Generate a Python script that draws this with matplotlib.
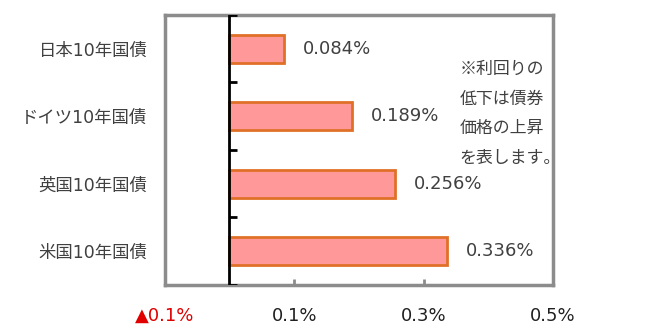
import matplotlib
matplotlib.use('Agg')
import matplotlib.pyplot as plt
import numpy as np

plt.rcParams['font.family'] = ['DejaVu Sans', 'Noto Sans CJK JP']

# data
bonds = ['日本10年国債', 'ドイツ10年国債', '英国10年国債', '米国10年国債']
yields = [0.084, 0.189, 0.256, 0.336]
xticks = [-0.1, 0.1, 0.3, 0.5]
xticklabels = ['▲0.1%', '0.1%', '0.3%', '0.5%']
note = '※利回りの\n低下は債券\n価格の上昇\nを表します。'

fig = plt.figure(figsize=(6.68, 3.33), dpi=100)
ax = fig.add_axes([0.2466, 0.1441, 0.5813, 0.811])

y = np.arange(len(bonds))
ax.barh(y, yields, height=0.42, color='#FF9999', edgecolor='#E07028', linewidth=2, zorder=3)

for yi, v in zip(y, yields):
    ax.text(v + 0.029, yi, f'{v:.3f}%', va='center', ha='left', fontsize=13, color='#404040')

ax.set_xlim(-0.1, 0.5)
ax.set_ylim(len(bonds) - 0.5, -0.5)

# zero line with category ticks
ax.axvline(0, color='black', lw=2, zorder=4)
bounds = np.arange(len(bonds) + 1) - 0.5
ax.hlines(bounds, 0, 0.012, color='black', lw=2, zorder=4)

ax.set_xticks(xticks)
ax.set_xticklabels(xticklabels, fontsize=13)
for lab in ax.get_xticklabels():
    lab.set_color('#E00000' if lab.get_text().startswith('▲') else '#202020')
ax.tick_params(axis='x', direction='in', length=4, width=2, color='#8C8C8C', pad=16)

ax.set_yticks(y)
ax.set_yticklabels(bonds, fontsize=12.5, color='#404040')
ax.tick_params(axis='y', length=0, pad=12.5)

for s in ax.spines.values():
    s.set_color('#8C8C8C')
    s.set_linewidth(2.5)

ax.text(0.356, 0.96, note, fontsize=12.2, color='#404040', ha='left', va='center',
        linespacing=1.82, family=['Noto Sans CJK JP', 'DejaVu Sans'])

fig.savefig('out.png', dpi=100)
